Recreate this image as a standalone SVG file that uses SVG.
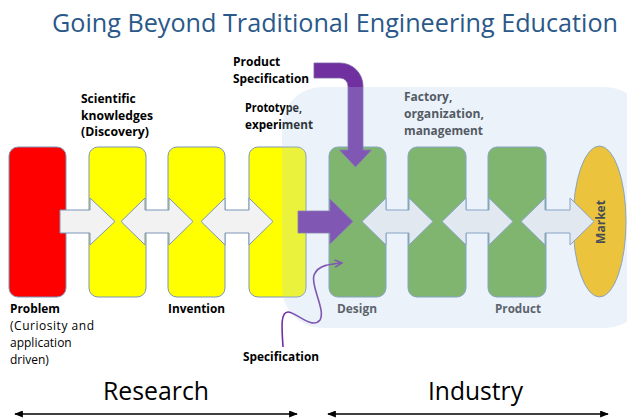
<svg xmlns="http://www.w3.org/2000/svg" width="627" height="418" viewBox="0 0 627 418">
  <defs>
    <style>
      .box { stroke: #7b96b9; stroke-width: 1; }
      .red { fill: #ff0000; }
      .yellow { fill: #ffff00; }
      .green { fill: #70ad47; }
      .flow { fill: #f2f2f2; stroke: #7b96b9; stroke-width: 1; }
      .push { fill: #7030a0; stroke: #7a62a6; stroke-width: 0.8; }
      .lbl { font-family: "Open Sans", "Liberation Sans", sans-serif; font-size: 12px; font-weight: bold; fill: #000; }
      .note { font-family: "Open Sans", "Liberation Sans", sans-serif; font-size: 12px; fill: #000; }
      .big { font-family: "Open Sans", "Liberation Sans", sans-serif; font-size: 25px; fill: #000; }
      .title { font-family: "Open Sans", "Liberation Sans", sans-serif; font-size: 25.5px; fill: #2a5889; }
      .span { stroke: #000; stroke-width: 1.5; fill: none; }
    </style>
    <marker id="tip" viewBox="0 0 10 8" refX="9" refY="4" markerWidth="9" markerHeight="7" markerUnits="userSpaceOnUse" orient="auto-start-reverse">
      <path d="M0,0 L10,4 L0,8 Z" fill="#000"/>
    </marker>
    <marker id="spec-tip" viewBox="0 0 10 10" refX="9" refY="5" markerWidth="9" markerHeight="9" markerUnits="userSpaceOnUse" orient="auto">
      <path d="M1,1 L9,5 L1,9" fill="none" stroke="#7030a0" stroke-width="1.6"/>
    </marker>
  </defs>

  <!-- heading -->
  <text class="title" x="52" y="32" textLength="566" lengthAdjust="spacingAndGlyphs">Going Beyond Traditional Engineering Education</text>

  <!-- stages -->
  <g id="problem">
    <rect class="box red" x="9" y="147" width="57" height="150" rx="9"/>
    <text class="lbl" x="10" y="313" textLength="50" lengthAdjust="spacingAndGlyphs">Problem</text>
    <text class="note" x="10" y="330" textLength="84" lengthAdjust="spacing">(Curiosity and</text>
    <text class="note" x="10" y="347">application</text>
    <text class="note" x="10" y="364">driven)</text>
  </g>
  <g id="discovery">
    <rect class="box yellow" x="89" y="147" width="57" height="150" rx="9"/>
    <text class="lbl" x="81" y="103">Scientific</text>
    <text class="lbl" x="81" y="120" textLength="72" lengthAdjust="spacingAndGlyphs">knowledges</text>
    <text class="lbl" x="81" y="136" textLength="68" lengthAdjust="spacingAndGlyphs">(Discovery)</text>
  </g>
  <g id="invention">
    <rect class="box yellow" x="168" y="147" width="57" height="150" rx="9"/>
    <text class="lbl" x="168" y="313" textLength="57" lengthAdjust="spacingAndGlyphs">Invention</text>
  </g>
  <g id="prototype">
    <rect class="box yellow" x="249" y="147" width="57" height="150" rx="9"/>
    <text class="lbl" x="245" y="112" textLength="57" lengthAdjust="spacingAndGlyphs">Prototype,</text>
    <text class="lbl" x="245" y="129" textLength="68" lengthAdjust="spacingAndGlyphs">experiment</text>
  </g>
  <g id="design">
    <rect class="box green" x="329" y="147" width="57" height="150" rx="9"/>
    <text class="lbl" x="337" y="313" fill="#404040" textLength="40" lengthAdjust="spacingAndGlyphs" style="fill:#404040">Design</text>
  </g>
  <g id="factory">
    <rect class="box green" x="408" y="147" width="58" height="150" rx="9"/>
    <text class="lbl" x="404" y="101" style="fill:#333">Factory,</text>
    <text class="lbl" x="404" y="118" style="fill:#333" textLength="80" lengthAdjust="spacingAndGlyphs">organization,</text>
    <text class="lbl" x="404" y="135" style="fill:#333" textLength="79" lengthAdjust="spacingAndGlyphs">management</text>
  </g>
  <g id="product">
    <rect class="box green" x="488" y="147" width="58" height="150" rx="9"/>
    <text class="lbl" x="495" y="313" style="fill:#404040" textLength="46" lengthAdjust="spacingAndGlyphs">Product</text>
  </g>
  <g id="market">
    <ellipse cx="599.5" cy="221.5" rx="26.5" ry="75.5" fill="#ffc000" stroke="#7b96b9" stroke-width="1"/>
    <text class="lbl" transform="translate(604.5,222) rotate(-90)" text-anchor="middle" style="fill:#222">Market</text>
  </g>
  <g id="product-spec">
    <text class="lbl" x="233" y="66">Product</text>
    <text class="lbl" x="233" y="83" textLength="76" lengthAdjust="spacingAndGlyphs">Specification</text>
  </g>
  <g id="spec">
    <text class="lbl" x="243" y="361" textLength="76" lengthAdjust="spacingAndGlyphs">Specification</text>
  </g>

  <!-- flows between stages -->
  <g id="connectors">
    <path class="flow" d="M60,210 H90 V198 L115,221.5 L90,245 V233 H60 Z"/>
    <path class="flow" d="M121,221.5 L145,198 V210 H169 V198 L193,221.5 L169,245 V233 H145 V245 Z"/>
    <path class="flow" d="M201,221.5 L225,198 V210 H249 V198 L273,221.5 L249,245 V233 H225 V245 Z"/>
    <path class="flow" d="M362,221.5 L386,198 V210 H409 V198 L433,221.5 L409,245 V233 H386 V245 Z"/>
    <path class="flow" d="M442,221.5 L466,198 V210 H489 V198 L513,221.5 L489,245 V233 H466 V245 Z"/>
    <path class="flow" d="M521,221.5 L545,198 V210 H570 V198 L594,221.5 L570,245 V233 H545 V245 Z"/>
    <!-- prototype into design -->
    <path class="push" d="M298,211 H330 V199 L353,221.5 L330,244 V233 H298 Z"/>
    <!-- product specification bent arrow -->
    <path class="push" d="M314,63 H340 A23,23 0 0 1 363,86 V150 H371.5 L355.5,167 L339.5,150 H348 V86 A8,8 0 0 0 340,78 H314 Z"/>
    <!-- specification squiggle -->
    <path d="M283,347 C282,330 280,312 288,312 C296,312 312,330 320,320 C326,310 310,285 314,275 C318,265 330,264 342,263" fill="none" stroke="#7030a0" stroke-width="1.6" marker-end="url(#spec-tip)"/>
    <!-- span arrows -->
    <line class="span" x1="15" y1="414" x2="297" y2="414" marker-start="url(#tip)" marker-end="url(#tip)"/>
    <line class="span" x1="328" y1="414" x2="608" y2="414" marker-start="url(#tip)" marker-end="url(#tip)"/>
  </g>

  <!-- translucent industry backdrop -->
  <rect id="industry-panel" x="282" y="87" width="363" height="241" rx="40" fill="#b1ccea" opacity="0.255"/>

  <text class="big" x="103" y="400" textLength="106" lengthAdjust="spacingAndGlyphs">Research</text>
  <text class="big" x="428" y="400" textLength="95" lengthAdjust="spacingAndGlyphs">Industry</text>
</svg>
